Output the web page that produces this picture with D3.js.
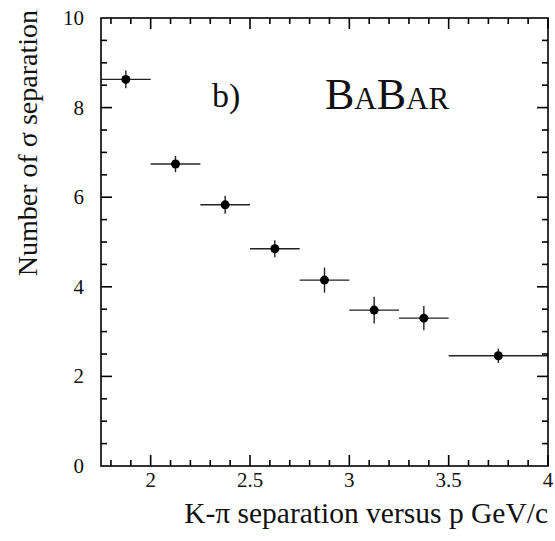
<!DOCTYPE html>
<html>
<head>
<meta charset="utf-8">
<script src="https://cdn.jsdelivr.net/npm/d3@7"></script>
<style>
  body { margin: 0; background: #fff; }
  text { font-family: "Liberation Serif", "DejaVu Serif", serif; fill: #111; }
</style>
</head>
<body>
<div id="chart"></div>
<script>
// bin centres, bin edges and measured separation
let pCenter = [1.875, 2.125, 2.375, 2.625, 2.875, 3.125, 3.375, 3.75];
let pLow = [1.75, 2.0, 2.25, 2.5, 2.75, 3.0, 3.25, 3.5];
let pHigh = [2.0, 2.25, 2.5, 2.75, 3.0, 3.25, 3.5, 4.0];
let nSigma = [8.63, 6.74, 5.83, 4.85, 4.15, 3.48, 3.3, 2.46];
let nSigmaErr = [0.2, 0.18, 0.2, 0.19, 0.28, 0.3, 0.27, 0.16];

let xMajor = [2, 2.5, 3, 3.5, 4];
let yMajor = [0, 2, 4, 6, 8, 10];

let margin = { top: 18, right: 7, bottom: 75, left: 101 };
let width = 555 - margin.left - margin.right;
let height = 541 - margin.top - margin.bottom;

let svg = d3
  .select("#chart")
  .append("svg")
  .attr("width", 555)
  .attr("height", 541)
  .append("g")
  .attr("transform", "translate(" + margin.left + "," + margin.top + ")");

let x = d3.scaleLinear().domain([1.75, 4]).range([0, width]);
let y = d3.scaleLinear().domain([0, 10]).range([height, 0]);

// tick labels
svg.selectAll(".xl")
  .data(xMajor)
  .enter()
  .append("text")
  .attr("x", (d) => x(d))
  .attr("y", height + 21)
  .attr("text-anchor", "middle")
  .attr("font-size", 21)
  .text((d) => d);

svg.selectAll(".yl")
  .data(yMajor)
  .enter()
  .append("text")
  .attr("x", -17)
  .attr("y", (d) => y(d) + 7)
  .attr("text-anchor", "end")
  .attr("font-size", 21)
  .text((d) => d);

// axis titles
svg.append("text")
  .attr("x", width)
  .attr("y", height + 57)
  .attr("text-anchor", "end")
  .attr("font-size", 29.5)
  .text("K-π separation versus p GeV/c");

svg.append("text")
  .attr("transform", "translate(-64,-8) rotate(-90)")
  .attr("text-anchor", "end")
  .attr("font-size", 28)
  .text("Number of σ separation");

// data points with error bars
let pts = svg.selectAll(".pt")
  .data(pCenter.map((c, i) => ({ c: c, lo: pLow[i], hi: pHigh[i], v: nSigma[i], e: nSigmaErr[i] })))
  .enter()
  .append("g");

pts.append("line")
  .attr("x1", (d) => x(d.lo))
  .attr("x2", (d) => x(d.hi))
  .attr("y1", (d) => y(d.v))
  .attr("y2", (d) => y(d.v))
  .attr("stroke", "#222")
  .attr("stroke-width", 1.4);

pts.append("line")
  .attr("x1", (d) => x(d.c))
  .attr("x2", (d) => x(d.c))
  .attr("y1", (d) => y(d.v - d.e))
  .attr("y2", (d) => y(d.v + d.e))
  .attr("stroke", "#222")
  .attr("stroke-width", 1.4);

pts.append("circle")
  .attr("cx", (d) => x(d.c))
  .attr("cy", (d) => y(d.v))
  .attr("r", 4.5)
  .attr("fill", "#000");

// labels inside the frame
svg.append("text")
  .attr("x", 111)
  .attr("y", 89)
  .attr("font-size", 34)
  .text("b)");

let babar = svg.append("text")
  .attr("x", 224)
  .attr("y", 91);
babar.append("tspan").attr("font-size", 44).text("B");
babar.append("tspan").attr("font-size", 31).text("A");
babar.append("tspan").attr("font-size", 44).text("B");
babar.append("tspan").attr("font-size", 31).text("AR");

// frame and inward ticks drawn last, on top of everything
let frame = svg.append("g");

frame.append("rect")
  .attr("width", width)
  .attr("height", height)
  .style("fill", "none")
  .attr("stroke", "#000")
  .attr("stroke-width", 1.6);

// minor ticks every 0.1 in p and 0.5 in sigma
let xTicks = d3.range(18, 41).map((d) => ({ v: d / 10, major: d % 5 === 0 }));
let yTicks = d3.range(1, 20).map((d) => ({ v: d / 2, major: d % 4 === 0 }));

[height, 0].forEach((y0) => {
  let dir = y0 === 0 ? 1 : -1;
  frame.selectAll(null)
    .data(xTicks)
    .enter()
    .append("line")
    .attr("x1", (d) => x(d.v))
    .attr("x2", (d) => x(d.v))
    .attr("y1", y0)
    .attr("y2", (d) => y0 + dir * (d.major ? 11 : 6))
    .attr("stroke", "#000")
    .attr("stroke-width", 1.6);
});

[0, width].forEach((x0) => {
  let dir = x0 === 0 ? 1 : -1;
  frame.selectAll(null)
    .data(yTicks)
    .enter()
    .append("line")
    .attr("y1", (d) => y(d.v))
    .attr("y2", (d) => y(d.v))
    .attr("x1", x0)
    .attr("x2", (d) => x0 + dir * (d.major ? 11 : 6))
    .attr("stroke", "#000")
    .attr("stroke-width", 1.6);
});
</script>
</body>
</html>
